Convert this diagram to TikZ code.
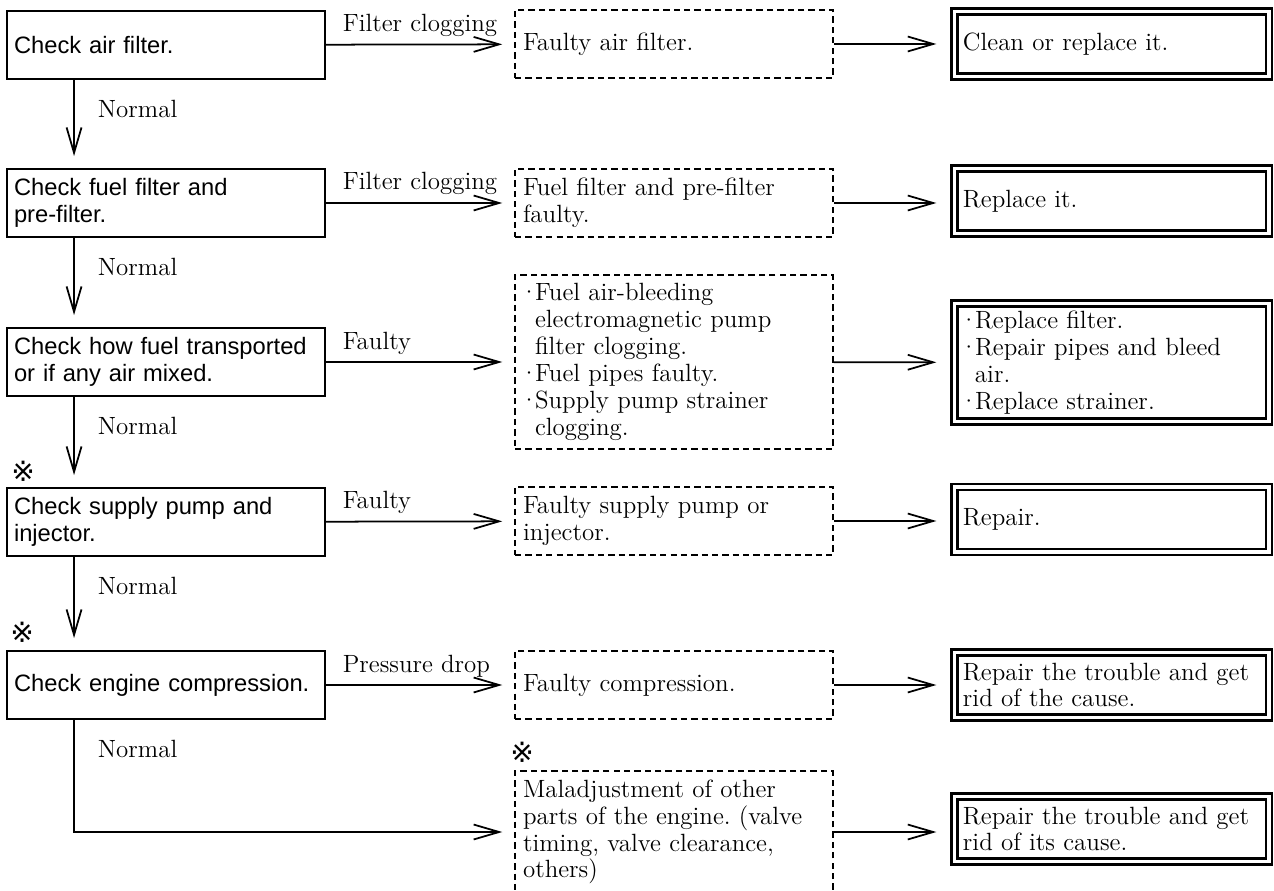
\documentclass[tikz,border=0pt]{standalone}
\usepackage{fontspec}
\usepackage{tikz}
\usetikzlibrary{arrows.meta,positioning,calc}
\newfontfamily\hsans{Liberation Sans}
\newfontfamily\refsym{DejaVu Sans}
\newcommand{\dotitem}{\makebox[0.24cm][c]{·}}
\newcommand{\dotpad}{\hspace*{0.24cm}}
\frenchspacing
\tikzset{
  chkbox/.style={rectangle, draw, line width=1.1pt, align=left,
                 font=\hsans\fontsize{13.5}{15.3}\selectfont,
                 text width=6.08cm, inner xsep=0.14cm, inner ysep=0pt, minimum height=1.36cm},
  fltbox/.style={rectangle, draw, line width=0.9pt, dash pattern=on 3.6pt off 2.3pt, align=left,
                 font=\fontsize{14.2}{15.3}\selectfont,
                 text width=6.04cm, inner xsep=0.16cm, inner ysep=0pt, minimum height=1.36cm},
  fixbox/.style={rectangle, draw, line width=1.3pt, double, double distance=2pt, align=left,
                 font=\fontsize{14.2}{15.3}\selectfont,
                 text width=5.95cm, inner xsep=0.17cm, inner ysep=0pt, minimum height=1.3cm},
  arr/.style={-{Straight Barb[length=14.5pt, width=8.5pt]}, line width=1pt},
  lbl/.style={font=\fontsize{14.2}{15.3}\selectfont, pos=0, anchor=base west, inner sep=0pt,
              xshift=0.32cm, yshift=0.26cm},
  nrm/.style={font=\fontsize{14.2}{15.3}\selectfont, pos=0, anchor=base west, inner sep=0pt,
              xshift=0.46cm, yshift=-0.76cm},
  refmk/.style={font=\refsym\fontsize{16}{16}\selectfont, inner sep=0pt},
}
\begin{document}
\begin{tikzpicture}[x=0.02cm, y=-0.02cm]
  \useasboundingbox (0,0) rectangle (1274,891);
  \clip (0,0) rectangle (1274,891);

  \node[chkbox] (chk1) at (166,45) {Check air filter.};
  \node[chkbox] (chk2) at (166,203) {Check fuel filter and\\pre-filter.};
  \node[chkbox] (chk3) at (166,362) {Check how fuel transported\\or if any air mixed.};
  \node[chkbox] (chk4) at (166,522) {Check supply pump and\\injector.};
  \node[chkbox] (chk5) at (166,685) {Check engine compression.};

  \node[fltbox] (flt1) at (674,44) {Faulty air filter.};
  \node[fltbox] (flt2) at (674,203) {Fuel filter and pre-filter\\faulty.};
  \node[fltbox, minimum height=3.48cm] (flt3) at (674,362)
    {\dotitem Fuel air-bleeding\\\dotpad electromagnetic pump\\\dotpad filter clogging.\\
     \dotitem Fuel pipes faulty.\\\dotitem Supply pump strainer\\\dotpad clogging.};
  \node[fltbox] (flt4) at (674,521) {Faulty supply pump or\\injector.};
  \node[fltbox] (flt5) at (674,685) {Faulty compression.};
  \node[fltbox, minimum height=2.44cm] (flt6) at (674,832)
    {Maladjustment of other\\parts of the engine. (valve\\timing, valve clearance,\\others)};

  \node[fixbox] (fix1) at (1111.7,44) {Clean or replace it.};
  \node[fixbox] (fix2) at (1111.7,201) {Replace it.};
  \node[fixbox, minimum height=2.36cm] (fix3) at (1111.7,362.5)
    {\dotitem Replace filter.\\\dotitem Repair pipes and bleed\\\dotpad air.\\\dotitem Replace strainer.};
  \node[fixbox] (fix4) at (1111.7,519.5) {Repair.};
  \node[fixbox] (fix5) at (1111.7,685) {Repair the trouble and get\\rid of the cause.};
  \node[fixbox] (fix6) at (1111.7,829) {Repair the trouble and get\\rid of its cause.};

  \node[refmk] (ref4) at ([xshift=0.34cm, yshift=0.32cm]chk4.north west) {※};
  \node[refmk] (ref5) at ([xshift=0.32cm, yshift=0.36cm]chk5.north west) {※};
  \node[refmk] (ref6) at ([xshift=0.16cm, yshift=0.36cm]flt6.north west) {※};

  \draw[arr, shorten >=0.24cm] (chk1) -- node[lbl] {Filter clogging} (flt1);
  \draw[arr, shorten >=0.24cm] (chk2) -- node[lbl] {Filter clogging} (flt2);
  \draw[arr, shorten >=0.24cm] (chk3) -- node[lbl] {Faulty} (flt3);
  \draw[arr, shorten >=0.24cm] (chk4) -- node[lbl] {Faulty} (flt4);
  \draw[arr, shorten >=0.24cm] (chk5) -- node[lbl] {Pressure drop} (flt5);

  \draw[arr, shorten >=0.34cm] (flt1) -- (fix1);
  \draw[arr, shorten >=0.34cm] (flt2.east) -- (fix2.west |- flt2.east);
  \draw[arr, shorten >=0.34cm] (flt3) -- (fix3);
  \draw[arr, shorten >=0.34cm] (flt4.east) -- (fix4.west |- flt4.east);
  \draw[arr, shorten >=0.34cm] (flt5) -- (fix5);
  \draw[arr, shorten >=0.34cm] (flt6.east) -- (fix6.west |- flt6.east);

  \draw[arr, shorten >=0.24cm] ([xshift=1.36cm]chk1.south west) -- node[nrm] {Normal} ([xshift=1.36cm]chk2.north west);
  \draw[arr, shorten >=0.24cm] ([xshift=1.36cm]chk2.south west) -- node[nrm] {Normal} ([xshift=1.36cm]chk3.north west);
  \draw[arr, shorten >=0.24cm] ([xshift=1.36cm]chk3.south west) -- node[nrm] {Normal} ([xshift=1.36cm]chk4.north west);
  \draw[arr, shorten >=0.24cm] ([xshift=1.36cm]chk4.south west) -- node[nrm] {Normal} ([xshift=1.36cm]chk5.north west);
  \draw[arr, shorten >=0.24cm] ([xshift=1.36cm]chk5.south west) |- node[nrm] {Normal} (flt6.west);
\end{tikzpicture}
\end{document}
